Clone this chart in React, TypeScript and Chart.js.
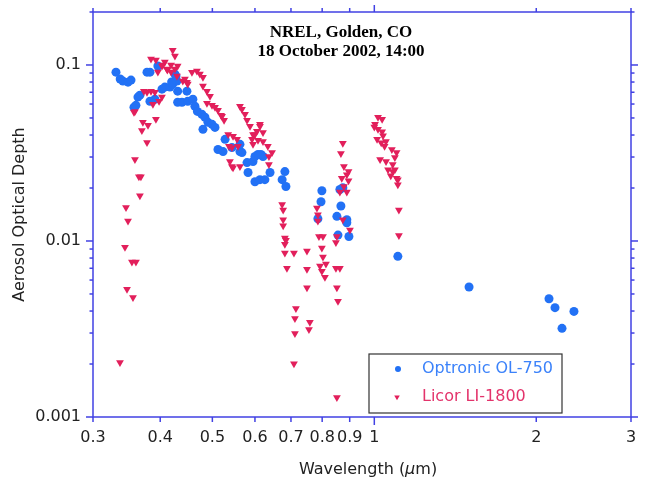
import React, { useEffect, useRef } from "react";
import { Chart, registerables } from "chart.js";

Chart.register(...registerables);

// ---- data (wavelength in µm, aerosol optical depth) ----
const blueX = [0.331, 0.337, 0.341, 0.3485, 0.353, 0.3575, 0.3605, 0.3636, 0.3667, 0.378, 0.3828, 0.396, 0.3828, 0.391, 0.403, 0.408, 0.417, 0.422, 0.4297, 0.426, 0.431, 0.42, 0.428, 0.431, 0.439, 0.4484, 0.45, 0.46, 0.464, 0.469, 0.478, 0.4844, 0.4803, 0.4907, 0.4993, 0.5057, 0.528, 0.5122, 0.5234, 0.5437, 0.5627, 0.5627, 0.5675, 0.58, 0.5825, 0.595, 0.6, 0.6078, 0.621, 0.6, 0.613, 0.626, 0.64, 0.6155, 0.682, 0.674, 0.685, 0.799, 0.796, 0.7855, 0.863, 0.874, 0.8668, 0.852, 0.889, 0.889, 0.897, 0.856, 1.106, 1.5, 2.112, 2.167, 2.233, 2.35];
const blueY = [0.091, 0.0832, 0.081, 0.0799, 0.0821, 0.0575, 0.059, 0.0657, 0.0674, 0.091, 0.091, 0.0987, 0.0622, 0.0639, 0.0729, 0.0749, 0.0749, 0.0779, 0.081, 0.0888, 0.0614, 0.08, 0.0865, 0.071, 0.0614, 0.071, 0.0622, 0.0639, 0.0583, 0.0545, 0.0525, 0.0505, 0.0431, 0.0472, 0.046, 0.0442, 0.0378, 0.0331, 0.0322, 0.034, 0.0322, 0.0354, 0.0318, 0.0279, 0.0245, 0.0283, 0.0302, 0.031, 0.0302, 0.0217, 0.0223, 0.0223, 0.0245, 0.031, 0.0248, 0.0223, 0.0204, 0.0193, 0.0167, 0.01337, 0.0196, 0.0201, 0.0158, 0.0138, 0.0132, 0.0127, 0.0106, 0.0108, 0.00818, 0.00548, 0.0047, 0.00418, 0.00319, 0.00398];

const redX = [0.3845, 0.3927, 0.408, 0.4045, 0.4125, 0.396, 0.422, 0.426, 0.419, 0.426, 0.419, 0.431, 0.403, 0.4115, 0.4297, 0.4406, 0.4484, 0.4446, 0.45, 0.4582, 0.468, 0.474, 0.4803, 0.4803, 0.4886, 0.495, 0.4886, 0.4993, 0.5057, 0.5122, 0.519, 0.5212, 0.5257, 0.535, 0.5463, 0.5557, 0.5368, 0.5437, 0.558, 0.539, 0.5437, 0.5627, 0.5463, 0.5627, 0.5675, 0.575, 0.58, 0.5874, 0.595, 0.605, 0.613, 0.621, 0.5925, 0.6078, 0.595, 0.621, 0.634, 0.6455, 0.637, 0.637, 0.613, 0.6, 0.373, 0.378, 0.3845, 0.391, 0.3877, 0.403, 0.398, 0.359, 0.3927, 0.3714, 0.3796, 0.3698, 0.378, 0.359, 0.3651, 0.3683, 0.3667, 0.3455, 0.3485, 0.344, 0.3544, 0.3605, 0.347, 0.356, 0.3367, 0.3575, 0.674, 0.677, 0.677, 0.677, 0.682, 0.685, 0.682, 0.682, 0.709, 0.688, 0.715, 0.712, 0.712, 0.709, 0.7496, 0.7496, 0.7496, 0.759, 0.756, 0.7823, 0.7855, 0.7855, 0.789, 0.8027, 0.799, 0.8027, 0.813, 0.7925, 0.799, 0.8095, 0.874, 0.8668, 0.878, 0.8955, 0.889, 0.87, 0.8955, 0.878, 0.863, 0.889, 0.874, 0.901, 0.852, 0.8485, 0.8485, 0.863, 0.852, 0.856, 0.852, 1.016, 1.034, 1.003, 1.016, 1.034, 1.038, 1.012, 1.051, 1.078, 1.1, 1.092, 1.025, 1.0515, 1.082, 1.0605, 1.082, 1.073, 1.106, 1.106, 1.111, 1.111, 1.092, 1.1, 1.03, 1.0, 1.045];
const redY = [0.108, 0.1066, 0.104, 0.1, 0.0937, 0.0912, 0.1214, 0.1126, 0.1, 0.0949, 0.0912, 0.0987, 0.0987, 0.0949, 0.0865, 0.081, 0.0799, 0.0832, 0.0779, 0.091, 0.0923, 0.0888, 0.0853, 0.0759, 0.071, 0.0665, 0.0606, 0.059, 0.0575, 0.0553, 0.0518, 0.0511, 0.0485, 0.0403, 0.0393, 0.0378, 0.0345, 0.034, 0.0345, 0.0283, 0.0265, 0.0265, 0.0261, 0.0583, 0.056, 0.0525, 0.0485, 0.0448, 0.0403, 0.042, 0.0448, 0.0414, 0.0378, 0.0373, 0.0354, 0.0368, 0.0345, 0.0318, 0.0302, 0.0272, 0.046, 0.0403, 0.071, 0.0701, 0.071, 0.0701, 0.0598, 0.0657, 0.0622, 0.0545, 0.0491, 0.0472, 0.0454, 0.0425, 0.0363, 0.029, 0.0232, 0.0232, 0.0181, 0.0155, 0.013, 0.0092, 0.00759, 0.00759, 0.00532, 0.00478, 0.00204, 0.0538, 0.0161, 0.015, 0.0132, 0.0122, 0.0104, 0.0101, 0.00958, 0.00854, 0.00854, 0.00701, 0.00414, 0.00363, 0.00298, 0.00201, 0.00876, 0.00692, 0.00543, 0.00345, 0.00314, 0.0154, 0.0141, 0.013, 0.0106, 0.0106, 0.00912, 0.0081, 0.0074, 0.0072, 0.00674, 0.00622, 0.0359, 0.0314, 0.0265, 0.0248, 0.0238, 0.0227, 0.022, 0.0204, 0.019, 0.019, 0.0132, 0.01156, 0.0106, 0.0098, 0.00701, 0.00701, 0.00543, 0.00454, 0.00129, 0.0505, 0.0491, 0.046, 0.0431, 0.0418, 0.0396, 0.0378, 0.0367, 0.0331, 0.0318, 0.0298, 0.029, 0.0283, 0.0272, 0.0254, 0.0248, 0.0235, 0.0223, 0.0209, 0.015, 0.01075, 0.0254, 0.0227, 0.0362, 0.0445, 0.0345];

const xTickValues = [0.3, 0.4, 0.5, 0.6, 0.7, 0.8, 0.9, 1, 2, 3];
const yLabelValues = [0.001, 0.01, 0.1];
const titleLines = ["NREL, Golden, CO", "18 October 2002, 14:00"];
const seriesNames = ["Optronic OL-750", "Licor LI-1800"];
const xTitleParts = ["Wavelength (", "\u03bc", "m)"];
const yTitle = "Aerosol Optical Depth";

const AXIS = "#4141e3";
const BLUE = "#2271f5";
const RED = "#e21f5b";
const BLUE_TEXT = "#3b82fa";
const RED_TEXT = "#e3336b";
const SANS = "'DejaVu Sans', 'Liberation Sans', sans-serif";

function tri(ctx: CanvasRenderingContext2D, x: number, y: number, r: number) {
  const h = r * Math.sqrt(3) / 2;
  ctx.beginPath();
  ctx.moveTo(x - h, y - r / 2);
  ctx.lineTo(x + h, y - r / 2);
  ctx.lineTo(x, y + r);
  ctx.closePath();
  ctx.fill();
}

const decorPlugin = {
  id: "decor",
  afterDatasetsDraw(chart: any) {
    const { ctx, chartArea: a, scales } = chart;
    const xs = scales.x;
    const ys = scales.y;
    ctx.save();
    ctx.strokeStyle = AXIS;
    ctx.lineWidth = 1.5;
    ctx.strokeRect(a.left, a.top, a.right - a.left, a.bottom - a.top);
    const seg = (x1: number, y1: number, x2: number, y2: number) => {
      ctx.beginPath();
      ctx.moveTo(x1, y1);
      ctx.lineTo(x2, y2);
      ctx.stroke();
    };
    for (const v of xTickValues) {
      const px = xs.getPixelForValue(v);
      const major = v === 1;
      seg(px, a.bottom, px, a.bottom + (major ? 8 : 5));
      seg(px, a.top, px, a.top - (major ? 7 : 4));
    }
    for (let d = -3; d <= -1; d++) {
      for (let m = 1; m <= 9; m++) {
        const v = m * Math.pow(10, d);
        if (v > ys.max * 1.0001) continue;
        const py = ys.getPixelForValue(v);
        const len = m === 1 ? 7 : 3.5;
        seg(a.left, py, a.left - len, py);
        seg(a.right, py, a.right + len, py);
      }
    }
    ctx.restore();
  },
  afterDraw(chart: any) {
    const { ctx, chartArea: a } = chart;
    ctx.save();
    // title inside plot
    ctx.fillStyle = "#000";
    ctx.font = "bold 17px 'Liberation Serif', 'Times New Roman', serif";
    ctx.textAlign = "center";
    ctx.textBaseline = "middle";
    const tx = a.left + 248;
    ctx.fillText(titleLines[0], tx, a.top + 21);
    ctx.fillText(titleLines[1], tx, a.top + 40);

    // x-axis title with italic mu
    ctx.fillStyle = "#222";
    ctx.textAlign = "left";
    const normal = `16px ${SANS}`;
    const italic = `italic 16px ${SANS}`;
    ctx.font = normal;
    const w0 = ctx.measureText(xTitleParts[0]).width;
    const w2 = ctx.measureText(xTitleParts[2]).width;
    ctx.font = italic;
    const w1 = ctx.measureText(xTitleParts[1]).width;
    let x = (a.left + a.right) / 2 + 6 - (w0 + w1 + w2) / 2;
    const y = a.bottom + 53;
    ctx.font = normal;
    ctx.fillText(xTitleParts[0], x, y);
    x += w0;
    ctx.font = italic;
    ctx.fillText(xTitleParts[1], x, y);
    x += w1;
    ctx.font = normal;
    ctx.fillText(xTitleParts[2], x, y);

    // legend box
    const bx = a.right - 262;
    const by = a.bottom - 63;
    const bw = 193;
    const bh = 59;
    ctx.fillStyle = "#fff";
    ctx.fillRect(bx, by, bw, bh);
    ctx.strokeStyle = "#333";
    ctx.lineWidth = 1.2;
    ctx.strokeRect(bx, by, bw, bh);
    const ds = chart.data.datasets;
    const rows = [by + 15, by + 43];
    ctx.font = normal;
    ctx.textBaseline = "middle";
    ctx.fillStyle = ds[0].backgroundColor;
    ctx.beginPath();
    ctx.arc(bx + 29, rows[0], 3, 0, Math.PI * 2);
    ctx.fill();
    ctx.fillStyle = BLUE_TEXT;
    ctx.fillText(ds[0].label, bx + 53, rows[0]);
    ctx.fillStyle = ds[1].backgroundColor;
    tri(ctx, bx + 28, rows[1], 3.2);
    ctx.fillStyle = RED_TEXT;
    ctx.fillText(ds[1].label, bx + 53, rows[1]);
    ctx.restore();
  },
};

export default function App() {
  const ref = useRef<HTMLCanvasElement | null>(null);
  useEffect(() => {
    if (!ref.current) return;
    const chart = new Chart(ref.current, {
      type: "scatter",
      data: {
        datasets: [
          {
            label: seriesNames[0],
            data: blueX.map((x, i) => ({ x, y: blueY[i] })),
            backgroundColor: BLUE,
            borderWidth: 0,
            pointStyle: "circle",
            pointRadius: 4.5,
            order: 1,
          },
          {
            label: seriesNames[1],
            data: redX.map((x, i) => ({ x, y: redY[i] })),
            backgroundColor: RED,
            borderWidth: 0,
            pointStyle: "triangle",
            rotation: 180,
            pointRadius: 4.5,
            order: 0,
          },
        ],
      },
      options: {
        animation: false,
        responsive: false,
        layout: { padding: { top: 12, right: 15, left: 0, bottom: 0 } },
        plugins: { legend: { display: false }, tooltip: { enabled: false }, title: { display: false } },
        scales: {
          x: {
            type: "logarithmic",
            position: "bottom",
            min: 0.3,
            max: 3,
            afterBuildTicks: (s: any) => {
              s.ticks = xTickValues.map((v) => ({ value: v }));
            },
            afterFit: (s: any) => {
              s.height = 66;
              s.paddingLeft = 0;
              s.paddingRight = 0;
            },
            grid: { display: false, drawTicks: false },
            border: { display: false },
            ticks: {
              autoSkip: false,
              maxRotation: 0,
              padding: 11,
              color: "#222",
              font: { family: SANS, size: 16 },
              callback: (v: any) => String(Number(Number(v).toPrecision(4))),
            },
          },
          y: {
            type: "logarithmic",
            position: "left",
            min: 0.001,
            max: 0.2,
            afterBuildTicks: (s: any) => {
              s.ticks = yLabelValues.map((v) => ({ value: v }));
            },
            afterFit: (s: any) => {
              s.width = 93;
              s.paddingTop = 0;
              s.paddingBottom = 0;
            },
            grid: { display: false, drawTicks: false },
            border: { display: false },
            ticks: {
              autoSkip: false,
              padding: 12,
              color: "#222",
              font: { family: SANS, size: 16 },
              callback: (v: any) => String(Number(Number(v).toPrecision(4))),
            },
            title: {
              display: true,
              text: yTitle,
              color: "#222",
              font: { family: SANS, size: 16 },
              padding: { top: 10, bottom: 0 },
            },
          },
        },
      },
      plugins: [decorPlugin],
    });
    return () => chart.destroy();
  }, []);
  return (
    <canvas
      ref={ref}
      width={646}
      height={483}
      style={{ position: "absolute", left: 0, top: 0, width: 646, height: 483 }}
    />
  );
}
